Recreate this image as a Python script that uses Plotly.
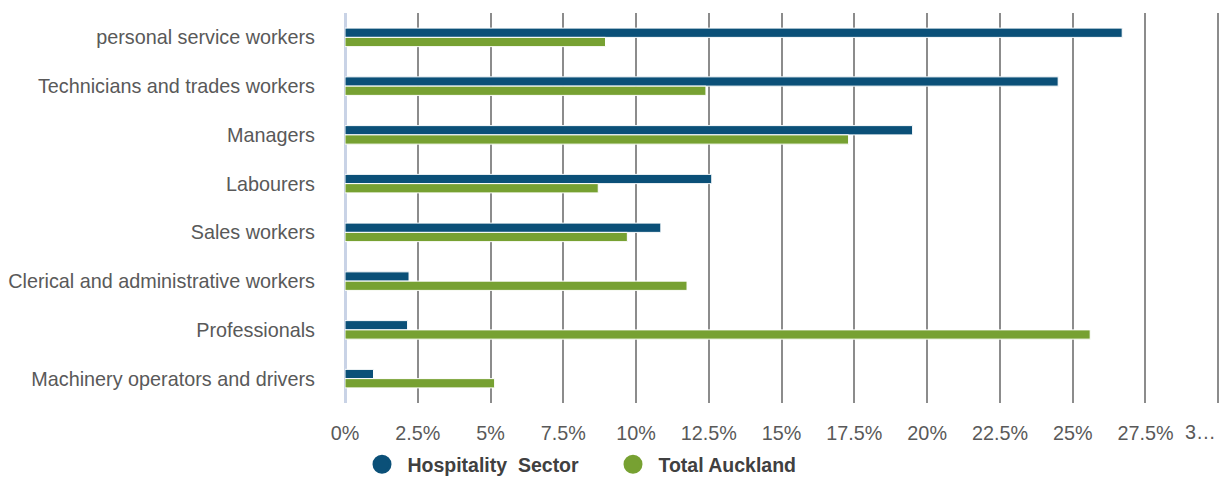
import plotly.graph_objects as go

# Occupation groups, listed top to bottom
occupations = [
    "personal service workers",
    "Technicians and trades workers",
    "Managers",
    "Labourers",
    "Sales workers",
    "Clerical and administrative workers",
    "Professionals",
    "Machinery operators and drivers",
]

# Share of workforce (%)
hospitality = [26.7, 24.5, 19.5, 12.6, 10.85, 2.2, 2.15, 0.98]
total_auckland = [8.95, 12.4, 17.3, 8.7, 9.7, 11.75, 25.6, 5.14]

tick_values = [0, 2.5, 5, 7.5, 10, 12.5, 15, 17.5, 20, 22.5, 25, 27.5, 30]
tick_labels = ["0%", "2.5%", "5%", "7.5%", "10%", "12.5%", "15%", "17.5%",
               "20%", "22.5%", "25%", "27.5%", "3…"]

series_names = ["Hospitality\u00a0 Sector", "Total Auckland"]
colors = ["#0b5078", "#77a132"]

fig = go.Figure()

for name, vals, col in zip(series_names, [hospitality, total_auckland], colors):
    fig.add_trace(go.Bar(
        y=occupations, x=vals, orientation="h", name=name,
        marker=dict(color=col, line=dict(color="white", width=1)),
        showlegend=False,
    ))

# Round legend swatches
for name, col in zip(series_names, colors):
    fig.add_trace(go.Scatter(
        x=[None], y=[None], mode="markers", name="\u00a0" + name,
        marker=dict(symbol="circle", size=16, color=col,
                    line=dict(color=col, width=3)),
    ))

font_family = "Liberation Sans, Arial, sans-serif"
plot_w = 1220 - 345
fs = 19.8

# The last tick label is right-aligned to its gridline so it stays inside the figure
fig.add_annotation(
    x=tick_values[-1], xref="x", xanchor="right", xshift=0,
    y=-0.0744, yref="paper", yanchor="middle",
    text=tick_labels[-1], showarrow=False,
    font=dict(family=font_family, size=fs, color="#595959"),
)

fig.update_layout(
    width=1220, height=477,
    margin=dict(l=345, r=0, t=13, b=74, autoexpand=False),
    paper_bgcolor="white", plot_bgcolor="white",
    barmode="group", bargap=0.62,
    font=dict(family=font_family, size=fs, color="#595959"),
    xaxis=dict(
        range=[0, 30.06], tickvals=tick_values,
        ticktext=tick_labels[:-1] + [""],
        showgrid=True, gridcolor="#8c8c8c", gridwidth=2,
        zeroline=True, zerolinecolor="#c9d3e6", zerolinewidth=3,
        showline=False, ticks="", ticklabelstandoff=16,
        tickfont=dict(size=fs, color="#595959"),
    ),
    yaxis=dict(
        categoryorder="array", categoryarray=occupations,
        autorange="reversed", showgrid=False, zeroline=False,
        showline=False, ticks="", ticklabelstandoff=29,
        tickfont=dict(size=fs, color="#595959"),
    ),
    legend=dict(
        orientation="h", x=17 / plot_w, xref="paper",
        xanchor="left", yanchor="middle", y=-0.158,
        entrywidth=206, entrywidthmode="pixels",
        font=dict(family=font_family, size=19.5, color="#404040", weight="bold"),
        itemsizing="trace", bgcolor="rgba(0,0,0,0)",
    ),
)

fig.write_html("out.html")
